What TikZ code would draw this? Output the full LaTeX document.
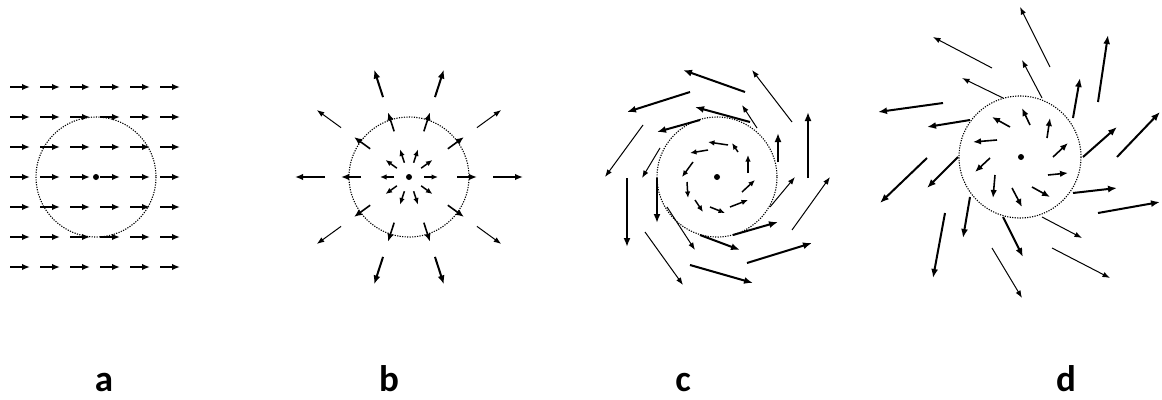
\documentclass[tikz,border=0pt]{standalone}
\usepackage{fontspec}
\setmainfont{Carlito}
\usetikzlibrary{arrows.meta}
\begin{document}
\begin{tikzpicture}[x=1pt,y=-1pt,
  vec/.style={-{Latex[length=8pt,width=6.5pt]}, line width=1.6pt},
  thk/.style={-{Latex[length=9pt,width=7pt]}, line width=2pt},
  thn/.style={-{Latex[length=7.5pt,width=5.5pt]}, line width=1pt},
  sml/.style={-{Latex[length=6.5pt,width=5.5pt]}, line width=1.5pt},
  ring/.style={draw, line width=1.1pt, dash pattern=on 1.2pt off 1.3pt},
  ctr/.style={fill, circle, inner sep=0pt, minimum size=6pt},
  lab/.style={font=\fontsize{37}{40}\selectfont\bfseries, anchor=base, inner sep=0pt}]
\useasboundingbox (0,0) rectangle (1162,399);

% ---------- panel a ----------
\draw[ring] (96,177) circle[radius=60];
\foreach \j in {0,...,6}
  \foreach \i in {0,...,5}
    \draw[vec] ({10+30*\i},{87+30*\j}) -- ++(20,0);
\node[ctr] (ca) at (96,177) {};

% ---------- panel b ----------
\draw[ring] (409,177) circle[radius=60];
\foreach \a in {0,36,...,324} {
  \draw[sml, shift={(409,177)}] (\a:15) -- (\a:29);
  \draw[vec, shift={(409,177)}] (\a:48) -- (\a:68);
}
\foreach \a in {72,108,252,288}
  \draw[thk, shift={(409,177)}] (\a:84) -- (\a:113);
\foreach \a in {0,180}
  \draw[vec, shift={(409,177)}] (\a:84) -- (\a:114);
\foreach \a in {36,144,216,324}
  \draw[thn, shift={(409,177)}] (\a:84) -- (\a:114);
\node[ctr] (cb) at (409,177) {};

% ---------- panel c ----------
\draw[ring] (717,177) circle[radius=60];
% inner ring
\foreach \ax/\ay/\bx/\by in {
  748/173/748/155, 738/152/732/143, 728/145/708/142, 708/150/690/153,
  693/162/682/177, 687/182/688/198, 695/200/703/212, 710/207/725/213,
  730/207/748/200, 742/192/755/180}
  \draw[sml] (\ax,\ay) -- (\bx,\by);
% middle ring
\foreach \ax/\ay/\bx/\by in {
  778/162/778/133, 750/122/695/107, 700/120/657/132, 657/178/657/223,
  700/235/740/250, 733/235/778/222}
  \draw[thk] (\ax,\ay) -- (\bx,\by);
\foreach \ax/\ay/\bx/\by in {
  757/128/742/105, 660/148/642/178, 667/207/695/250, 770/207/795/177}
  \draw[thn] (\ax,\ay) -- (\bx,\by);
% outer ring
\foreach \ax/\ay/\bx/\by in {
  808/178/808/112, 745/92/683/70, 690/92/627/112, 627/178/627/247,
  690/265/753/283, 747/263/812/243}
  \draw[thk] (\ax,\ay) -- (\bx,\by);
\foreach \ax/\ay/\bx/\by in {
  792/122/752/70, 643/125/605/177, 645/232/683/285, 792/230/830/177}
  \draw[thn] (\ax,\ay) -- (\bx,\by);
\node[ctr] (cc) at (717,177) {};

% ---------- panel d ----------
\draw[ring] (1020,157) circle[radius=61];
% inner ring
\foreach \ax/\ay/\bx/\by in {
  1030/125/1022/108, 1010/127/992/117, 997/140/973/142, 990/158/975/172,
  995/175/993/198, 1012/188/1022/207, 1032/187/1050/197, 1048/175/1068/173,
  1053/157/1068/143, 1047/138/1050/118}
  \draw[vec] (\ax,\ay) -- (\bx,\by);
% middle ring
\foreach \ax/\ay/\bx/\by in {
  1042/98/1022/60, 1003/98/962/78, 1042/217/1082/238}
  \draw[thn] (\ax,\ay) -- (\bx,\by);
\foreach \ax/\ay/\bx/\by in {
  970/120/927/127, 958/157/927/188, 970/197/963/238, 1003/217/1023/257,
  1073/193/1117/188, 1083/157/1117/127, 1073/118/1080/78}
  \draw[thk] (\ax,\ay) -- (\bx,\by);
% outer ring
\foreach \ax/\ay/\bx/\by in {
  1050/67/1020/7, 992/68/933/37, 992/248/1022/298, 1052/248/1110/278}
  \draw[thn] (\ax,\ay) -- (\bx,\by);
\foreach \ax/\ay/\bx/\by in {
  943/103/878/112, 927/158/880/203, 945/213/933/278, 1098/213/1160/202,
  1117/157/1160/112, 1098/102/1108/35}
  \draw[thk] (\ax,\ay) -- (\bx,\by);
\node[ctr] (cd) at (1021,157) {};

% ---------- labels ----------
\node[lab] (la) at (104,391) {a};
\node[lab] (lb) at (389,391) {b};
\node[lab] (lc) at (683,391) {c};
\node[lab] (ld) at (1066,391) {d};
\end{tikzpicture}
\end{document}
